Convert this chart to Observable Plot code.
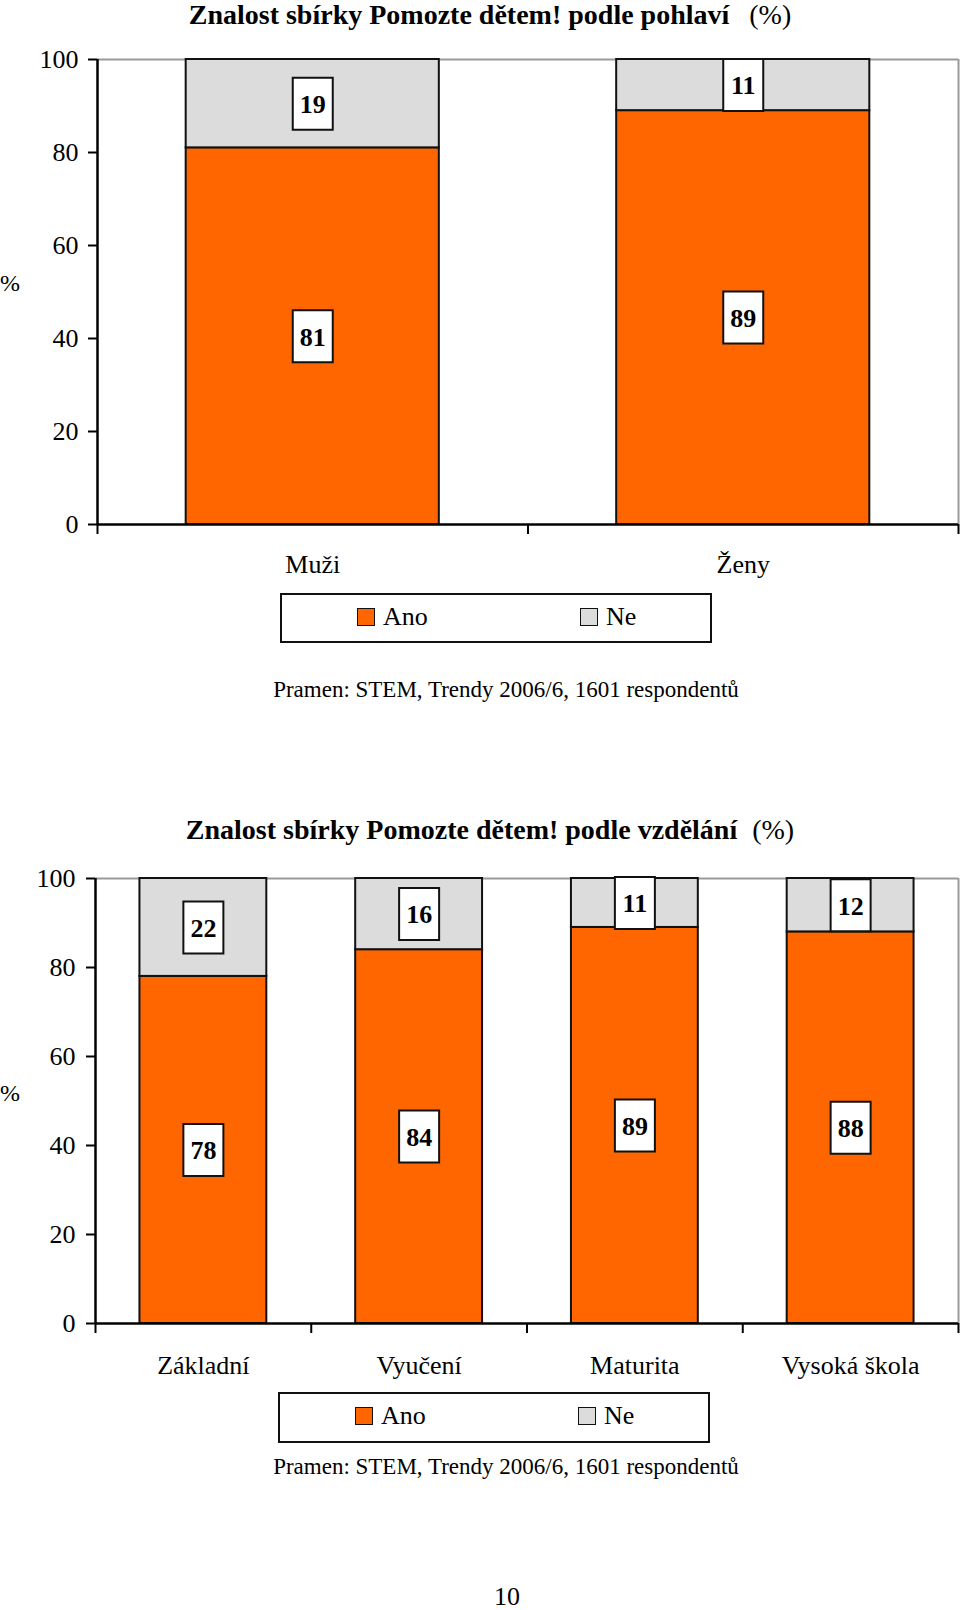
<!DOCTYPE html>
<html>
<head>
<meta charset="utf-8">
<script src="https://cdn.jsdelivr.net/npm/d3@7"></script>
<script src="https://cdn.jsdelivr.net/npm/@observablehq/plot@0.6"></script>
<style>
  body { margin: 0; background: #fff; }
  #page { position: relative; width: 960px; height: 1610px; font-family: "Liberation Serif", "Times New Roman", serif; color: #000; overflow: hidden; }
  .abs { position: absolute; white-space: nowrap; line-height: 1; }
  .title { font-weight: bold; }
  .title .pct { font-weight: normal; }
  .legend { position: absolute; border: 2px solid #111; box-sizing: border-box; background: #fff; }
  .sw { position: absolute; width: 18px; height: 18px; box-sizing: border-box; border: 1.5px solid #111; }
  .ltext { position: absolute; font-size: 26px; line-height: 1; white-space: nowrap; }
  .chart { position: absolute; left: 0; }
</style>
</head>
<body>
<div id="page"></div>
<script>
// ---------- data ----------
const seriesNames = ["Ano", "Ne"];
const seriesColors = ["#ff6600", "#dcdcdc"];

const genderCats = ["Muži", "Ženy"];
const genderAno = [81, 89];
const genderNe = [19, 11];

const eduCats = ["Základní", "Vyučení", "Maturita", "Vysoká škola"];
const eduAno = [78, 84, 89, 88];
const eduNe = [22, 16, 11, 12];

const yTicks = [0, 20, 40, 60, 80, 100];

const title1 = "Znalost sbírky Pomozte dětem! podle pohlaví";
const title2 = "Znalost sbírky Pomozte dětem! podle vzdělání";
const titleUnit = "(%)";
const yLabel = "%";
const caption = "Pramen: STEM, Trendy 2006/6, 1601 respondentů";
const pageNumber = "10";

// ---------- helpers ----------
const page = document.getElementById("page");
const colorOf = s => seriesColors[seriesNames.indexOf(s)];
const FONT = "'Liberation Serif', 'Times New Roman', serif";

// place text so that its baseline sits at `baseline`
function addText(html, {x, baseline, size, cls = "", anchor = "start"}) {
  const d = document.createElement("div");
  d.className = "abs " + cls;
  d.innerHTML = html;
  d.style.fontSize = size + "px";
  d.style.top = Math.max(0, baseline - size * 0.8375) + "px";
  d.style.left = x + "px";
  if (anchor === "middle") d.style.transform = "translateX(-50%)";
  page.appendChild(d);
  return d;
}

const boxSymbol = {
  draw(ctx) {
    const w = 20, h = 26;
    ctx.moveTo(-w, -h); ctx.lineTo(w, -h); ctx.lineTo(w, h); ctx.lineTo(-w, h); ctx.closePath();
  }
};

function makeChart(cats, ano, ne, {top, height, marginTop, marginBottom, marginLeft, labelPad, tickPad}) {
  const n = cats.length;
  const hw = 0.294;
  const rows = [];
  cats.forEach((c, i) => {
    rows.push({i, cat: c, series: seriesNames[0], y1: 0, y2: ano[i], v: ano[i]});
    rows.push({i, cat: c, series: seriesNames[1], y1: ano[i], y2: ano[i] + ne[i], v: ne[i]});
  });
  const svg = Plot.plot({
    width: 960,
    height,
    marginTop,
    marginBottom,
    marginLeft,
    marginRight: 2,
    style: {fontFamily: FONT, fontSize: "26px", background: "transparent", color: "#000", overflow: "visible"},
    x: {domain: [0, n], axis: null},
    y: {domain: [0, 100], axis: null},
    marks: [
      Plot.ruleY([100], {stroke: "#9a9a9a", strokeWidth: 2}),
      Plot.ruleX([n], {stroke: "#9a9a9a", strokeWidth: 2}),
      Plot.rect(rows, {
        x1: d => d.i + 0.5 - hw, x2: d => d.i + 0.5 + hw,
        y1: "y1", y2: "y2",
        fill: d => colorOf(d.series),
        stroke: "#111", strokeWidth: 2
      }),
      Plot.axisY({ticks: yTicks, tickSize: 9, tickPadding: tickPad, strokeWidth: 2, tickFormat: d => String(d)}),
      Plot.axisX({ticks: d3.range(n + 1), tickSize: 10, strokeWidth: 2, tickFormat: () => ""}),
      Plot.axisX({ticks: cats.map((c, i) => i + 0.5), tickSize: 0, tickPadding: labelPad, tickFormat: v => cats[Math.floor(v)]}),
      Plot.ruleX([0], {stroke: "#000", strokeWidth: 2.5}),
      Plot.ruleY([0], {stroke: "#000", strokeWidth: 2.5}),
      Plot.dot(rows, {x: d => d.i + 0.5, y: d => (d.y1 + d.y2) / 2, symbol: boxSymbol, fill: "#fff", stroke: "#111", strokeWidth: 2}),
      Plot.text(rows, {x: d => d.i + 0.5, y: d => (d.y1 + d.y2) / 2, text: d => String(d.v), fontWeight: "bold", fontSize: 26, dy: 1})
    ]
  });
  svg.classList.add("chart");
  svg.style.top = top + "px";
  page.appendChild(svg);
}

function addLegend({left, top, width, height}) {
  const lg = document.createElement("div");
  lg.className = "legend";
  lg.style.left = left + "px";
  lg.style.top = top + "px";
  lg.style.width = width + "px";
  lg.style.height = height + "px";
  page.appendChild(lg);
  const offsets = [[77, 103], [300, 326]];
  seriesNames.forEach((s, k) => {
    const sw = document.createElement("div");
    sw.className = "sw";
    sw.style.background = seriesColors[k];
    sw.style.left = (left + offsets[k][0]) + "px";
    sw.style.top = (top + 15) + "px";
    page.appendChild(sw);
    const t = document.createElement("div");
    t.className = "ltext";
    t.textContent = s;
    t.style.left = (left + offsets[k][1]) + "px";
    t.style.top = (top + 33 - 26 * 0.8375) + "px";
    page.appendChild(t);
  });
}

// ---------- chart 1 ----------
addText(title1 + `<span class="pct" style="margin-left:20px">${titleUnit}</span>`, {x: 490, baseline: 24, size: 28, cls: "title", anchor: "middle"});
addText(yLabel, {x: 0, baseline: 291, size: 24});
makeChart(genderCats, genderAno, genderNe, {top: 0, height: 600, marginTop: 59, marginBottom: 76, marginLeft: 97, labelPad: 30, tickPad: 10});
addLegend({left: 280, top: 593, width: 432, height: 50});
addText(caption, {x: 506, baseline: 697, size: 23, anchor: "middle"});

// ---------- chart 2 ----------
addText(title2 + `<span class="pct" style="margin-left:15px">${titleUnit}</span>`, {x: 490, baseline: 839, size: 28, cls: "title", anchor: "middle"});
addText(yLabel, {x: 0, baseline: 1101, size: 24});
makeChart(eduCats, eduAno, eduNe, {top: 800, height: 600, marginTop: 78, marginBottom: 77, marginLeft: 95, labelPad: 32, tickPad: 11});
addLegend({left: 278, top: 1392, width: 432, height: 51});
addText(caption, {x: 506, baseline: 1474, size: 23, anchor: "middle"});

// ---------- page number ----------
addText(pageNumber, {x: 507, baseline: 1606, size: 26, anchor: "middle"});
</script>
</body>
</html>
